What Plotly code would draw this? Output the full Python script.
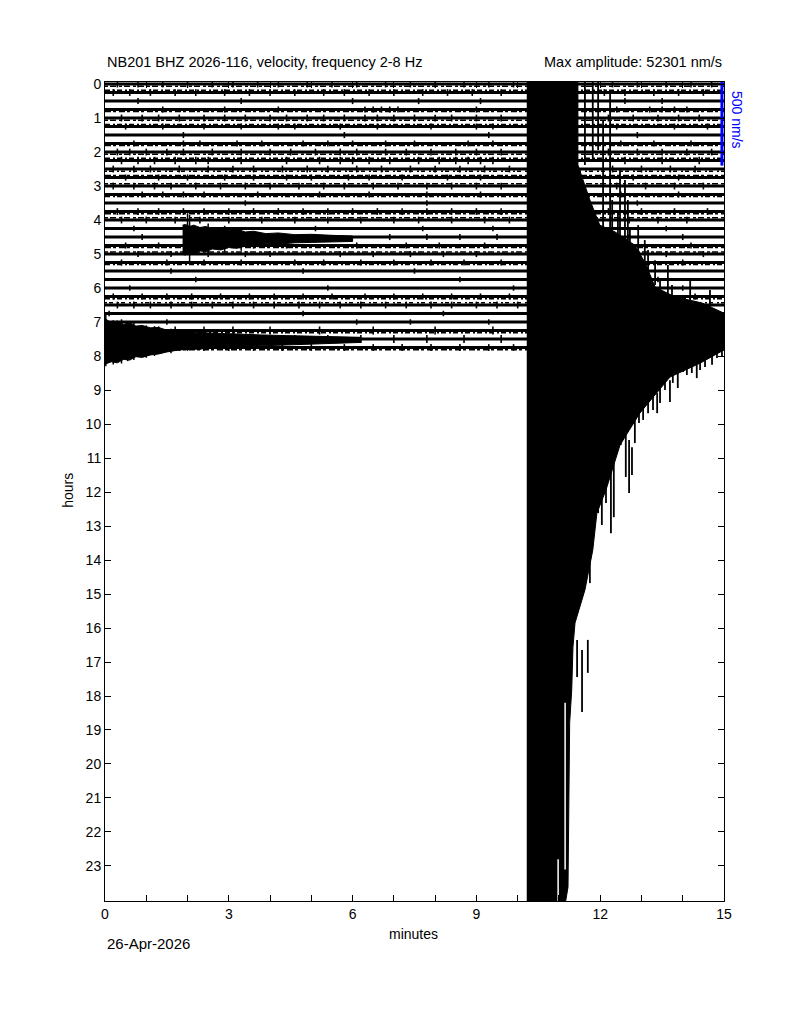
import plotly.graph_objects as go

title_left = "NB201 BHZ 2026-116, velocity, frequency 2-8 Hz"
title_right = "Max amplitude: 52301 nm/s"
date_label = "26-Apr-2026"
scale_label = "500 nm/s"
scale_bar_hours = 2.4

trace_hours = [0.0, 0.25, 0.5, 0.75, 1.0, 1.25, 1.5, 1.75,
               2.0, 2.25, 2.5, 2.75, 3.0, 3.25, 3.5, 3.75,
               4.0, 4.25, 4.5, 4.75, 5.0, 5.25, 5.5, 5.75,
               6.0, 6.25, 6.5, 6.75, 7.0, 7.25, 7.5, 7.75]

# half height of the single wiggles on each line (hours)
trace_amp = [0.10, 0.10, 0.09, 0.09, 0.10, 0.09, 0.09, 0.09,
             0.10, 0.11, 0.10, 0.09, 0.10, 0.09, 0.08, 0.10,
             0.10, 0.08, 0.09, 0.09, 0.09, 0.09, 0.08, 0.08,
             0.08, 0.09, 0.10, 0.08, 0.08, 0.12, 0.12, 0.10]

# level of the background noise band (hours, 0 = quiet line)
trace_noise = [0.065, -0.065, 0, 0.06, 0.065, -0.06, 0, 0.06,
               0.065, -0.065, 0.065, -0.06, -0.065, 0.06, 0, 0.065,
               -0.065, 0, 0, 0.06, -0.06, 0.06, 0, 0,
               0, 0.065, -0.065, 0, 0, 0.065, 0, 0.065]

trace_spikes = [
    [0.3, 0.8, 1.4, 2.0, 2.6, 3.1, 3.7, 4.2, 4.9, 5.5, 6.1, 6.8, 7.4, 8.0, 8.7, 9.3, 9.9, 12.3, 12.9, 13.6, 14.2, 14.7],
    [0.2, 0.6, 1.1, 1.7, 2.2, 2.9, 3.5, 4.0, 4.6, 5.3, 5.8, 6.4, 7.0, 7.7, 8.3, 8.9, 9.6, 12.1, 12.6, 13.3, 13.9, 14.5],
    [0.8, 3.3, 6.0, 7.6, 9.1, 12.6, 13.5],
    [1.4, 2.9, 4.2, 6.3, 6.5, 6.7, 6.9, 7.1, 9.0, 12.4, 13.2, 13.5, 13.8, 14.1],
    [0.4, 0.9, 1.3, 1.8, 2.4, 2.9, 3.4, 4.0, 4.4, 4.9, 5.3, 5.8, 6.3, 6.6, 7.0, 7.5, 8.0, 8.4, 9.0, 9.6, 12.2, 12.8, 13.4, 13.9, 14.4],
    [0.5, 1.4, 2.4, 3.3, 4.2, 4.6, 5.7, 6.6, 7.9, 9.0, 9.4, 12.4, 13.8, 14.6],
    [1.9, 5.8, 9.3, 12.9],
    [0.7, 1.9, 2.3, 3.2, 3.8, 4.8, 5.4, 6.0, 6.8, 7.5, 8.8, 9.4, 12.5, 13.3, 14.2],
    [0.3, 0.6, 1.0, 1.5, 1.9, 2.6, 3.3, 4.0, 4.5, 5.1, 5.7, 6.1, 6.8, 7.3, 7.9, 8.5, 9.0, 9.6, 12.2, 12.9, 13.5, 14.1, 14.7],
    [0.4, 0.8, 1.2, 1.7, 2.2, 2.5, 3.3, 4.4, 5.2, 5.7, 6.0, 6.4, 6.9, 7.6, 8.1, 8.5, 8.8, 9.1, 9.4, 12.6, 13.5, 14.4],
    [0.2, 0.7, 1.1, 1.8, 2.5, 3.1, 3.6, 4.3, 4.9, 5.4, 6.1, 6.7, 7.4, 8.0, 8.6, 9.2, 9.8, 12.3, 13.0, 13.7, 14.3],
    [0.5, 1.3, 2.0, 2.9, 3.6, 4.4, 5.0, 5.9, 6.4, 7.2, 8.3, 9.1, 12.8, 13.9],
    [0.2, 0.7, 1.2, 1.6, 2.2, 2.8, 3.4, 4.0, 4.7, 5.3, 5.8, 6.5, 7.1, 7.8, 8.4, 9.0, 9.6, 12.4, 13.1, 13.8, 14.5],
    [0.9, 1.4, 1.9, 2.4, 3.7, 5.2, 6.4, 7.8, 9.1, 12.5, 13.9],
    [3.4, 7.8, 12.9],
    [0.3, 0.8, 1.3, 1.9, 2.4, 3.0, 3.6, 4.2, 4.8, 5.4, 6.0, 6.6, 7.2, 7.8, 8.4, 9.0, 9.6, 12.2, 13.0, 13.8, 14.6],
    [0.4, 1.0, 1.7, 2.3, 3.0, 3.8, 4.6, 5.4, 6.2, 7.0, 7.6, 8.4, 9.2, 9.8, 12.7, 13.4, 14.1],
    [0.7, 2.9, 5.1, 7.7, 9.4, 13.6],
    [0.9, 6.9, 7.8, 8.6, 9.5, 12.7, 14.0],
    [0.5, 1.3, 2.8, 3.6, 4.4, 6.1, 7.3, 8.1, 9.2, 12.6, 14.2],
    [0.8, 1.6, 2.5, 3.4, 4.0, 5.7, 6.5, 7.4, 8.2, 9.0, 12.4, 13.6, 14.5],
    [0.4, 1.5, 2.4, 3.3, 4.6, 5.3, 6.2, 7.0, 7.9, 8.7, 9.6, 12.9, 14.0],
    [1.6, 4.8, 7.5, 12.8],
    [2.2, 8.6, 13.4],
    [0.6, 5.4, 9.9, 14.0],
    [0.2, 0.9, 1.5, 2.1, 2.8, 3.5, 4.1, 4.8, 5.5, 6.3, 7.0, 7.7, 8.4, 9.1, 9.8, 12.5, 13.4, 14.3],
    [0.3, 0.7, 1.1, 1.6, 2.1, 2.6, 3.1, 3.6, 4.1, 4.7, 5.2, 5.7, 6.2, 6.8, 7.3, 7.9, 8.4, 9.0, 9.5, 10.0],
    [0.1, 4.8, 8.2, 12.7],
    [1.5, 6.1, 7.4, 9.3],
    [0.3, 0.6, 0.9, 1.3, 1.7, 2.4, 3.1, 4.0, 5.2, 6.5, 8.0, 9.4],
    [0.1, 0.4, 0.8, 1.1, 1.5, 2.0, 2.6, 3.2, 3.9, 4.6, 5.4, 6.2, 7.0, 7.8, 8.7, 9.6],
    [0.3, 0.7, 1.2, 1.8, 2.4, 3.0, 3.6, 4.3, 5.0, 5.8, 6.5, 7.2, 7.9, 8.6, 9.3, 9.9],
]

# small event on the 4.5 h line (minutes, extent above / below centre in hours)
ev1_hour = 4.55
ev1_min = [1.88, 1.95, 2.05, 2.15, 2.3, 2.45, 2.6, 2.8, 3.0, 3.2, 3.4, 3.6, 3.9, 4.2, 4.6, 5.0, 5.5, 6.0]
ev1_up = [0.40, 0.42, 0.36, 0.40, 0.33, 0.36, 0.28, 0.32, 0.25, 0.28, 0.20, 0.22, 0.15, 0.17, 0.12, 0.13, 0.10, 0.08]
ev1_dn = [0.46, 0.48, 0.40, 0.44, 0.36, 0.38, 0.30, 0.33, 0.26, 0.28, 0.22, 0.20, 0.15, 0.16, 0.12, 0.12, 0.10, 0.08]
ev1_spk_min = [2.0, 2.05, 2.5, 2.9, 3.3, 3.7]
ev1_spk_top = [3.80, 3.85, 4.10, 4.20, 4.25, 4.35]
ev1_spk_bot = [4.85, 5.24, 5.00, 4.95, 4.90, 4.80]

# coda at the start of the 7.5 h line
coda_hour = 7.52
coda_min = [0.0, 0.15, 0.3, 0.45, 0.6, 0.75, 0.9, 1.1, 1.3, 1.5, 1.8, 2.1, 2.5, 2.9, 3.3, 3.8, 4.4, 5.0, 5.6, 6.2]
coda_up = [0.62, 0.50, 0.55, 0.45, 0.50, 0.40, 0.42, 0.35, 0.36, 0.28, 0.25, 0.22, 0.20, 0.18, 0.17, 0.14, 0.12, 0.11, 0.09, 0.07]
coda_dn = [0.72, 0.65, 0.68, 0.58, 0.60, 0.50, 0.52, 0.45, 0.42, 0.36, 0.30, 0.27, 0.25, 0.24, 0.22, 0.18, 0.15, 0.12, 0.10, 0.08]
coda_spk_min = [0.02, 0.2, 0.4, 0.55, 0.7, 1.0, 1.2, 1.6, 2.0, 2.3, 2.7, 3.1]
coda_spk_top = [6.72, 6.95, 6.92, 7.00, 7.02, 7.10, 7.12, 7.20, 7.26, 7.28, 7.30, 7.32]
coda_spk_bot = [8.30, 8.25, 8.22, 8.15, 8.12, 8.05, 8.00, 7.92, 7.85, 7.82, 7.80, 7.78]

# clipped main quake: outline of the saturated black area (minute, hour)
quake_min = [10.22, 11.46, 11.46, 11.75, 11.99, 12.36, 12.84, 13.09, 13.33, 13.81, 14.47, 15.0,
             15.0, 14.42, 13.69, 12.96, 12.48, 12.14, 11.92, 11.82, 11.63, 11.39, 11.34, 11.31,
             11.26, 11.24, 11.22, 11.10, 10.22]
quake_hour = [-0.5, -0.5, 2.38, 3.41, 4.15, 4.35, 4.74, 5.26, 5.97, 6.26, 6.44, 6.74,
              7.82, 8.21, 8.62, 9.68, 10.62, 11.94, 12.62, 13.71, 14.88, 15.85, 16.56, 17.82,
              18.79, 23.12, 23.62, 24.5, 24.5]

# single swings sticking out of the saturated block
qspk_min = [11.63, 11.82, 11.95, 12.07, 12.24, 12.48, 12.60, 12.72, 12.92, 13.16, 13.45, 13.74,
            12.29, 12.43, 12.67, 13.08, 13.33, 13.64, 14.18, 14.66,
            11.44, 11.56, 11.70, 11.75, 11.95, 12.04, 12.14, 12.26, 12.33, 12.50, 12.62, 12.70,
            12.77, 12.84, 12.94, 13.04, 13.16, 13.28, 13.38, 13.45, 13.57, 13.69, 13.76, 13.88,
            14.01, 14.10, 14.22, 14.34, 14.42, 14.54, 14.71, 14.83, 14.95]
qspk_top = [-0.5, -0.5, -0.5, 1.06, 0.18, 2.53, 2.82, 4.29, 4.15, 4.88, 5.76, 5.91,
            3.41, 3.71, 3.41, 4.59, 5.18, 5.32, 5.76, 6.06,
            16.35, 16.65, 16.35, 13.41, 11.35, 11.65, 10.82, 11.35, 11.15, 9.38, 9.68, 10.47,
            10.68, 9.21, 9.21, 9.29, 8.91, 9.09, 9.09, 8.94, 8.47, 8.71, 8.35, 8.32,
            8.12, 8.06, 8.18, 8.26, 7.91, 7.97, 7.88, 7.76, 7.82]
qspk_bot = [2.38, 2.24, 1.94, 4.59, 4.59, 4.74, 4.88, 6.06, 6.21, 6.35, 6.50, 6.50,
            5.18, 4.88, 4.88, 5.47, 5.91, 6.21, 6.35, 6.65,
            17.44, 18.47, 17.32, 14.68, 12.62, 12.97, 12.32, 13.21, 12.74, 10.62, 11.56, 12.03,
            11.50, 10.56, 9.97, 9.88, 9.68, 9.59, 9.68, 9.38, 9.00, 9.35, 8.79, 8.94,
            8.47, 8.56, 8.50, 8.65, 8.41, 8.32, 8.26, 8.06, 8.03]

# thin white gaps inside the block near its foot
gap_min = [10.98, 11.15]
gap_top = [22.8, 18.2]
gap_bot = [24.5, 23.1]

FONT = "Liberation Sans, Arial, Helvetica, sans-serif"
NOISE_DASH = ["3px,2px,6px,3px", "5px,3px,2px,2px", "2px,2px,4px,4px", "6px,2px,3px,3px"]


def vbars(mins, tops, bots):
    xs, ys = [], []
    for m, t, b in zip(mins, tops, bots):
        xs += [m, m, None]
        ys += [t, b, None]
    return xs, ys


fig = go.Figure()

# helicorder lines
for i, h in enumerate(trace_hours):
    fig.add_trace(go.Scatter(x=[0.0, 15.0], y=[h, h], mode="lines",
                             line=dict(color="black", width=3),
                             hoverinfo="skip", showlegend=False))
    if trace_noise[i]:
        fig.add_trace(go.Scatter(x=[0.0, 15.0], y=[h + trace_noise[i]] * 2, mode="lines",
                                 line=dict(color="black", width=1.5,
                                           dash=NOISE_DASH[i % len(NOISE_DASH)]),
                                 hoverinfo="skip", showlegend=False))

# single wiggles on the lines
wx, wy = [], []
for h, a, spikes in zip(trace_hours, trace_amp, trace_spikes):
    bx, by = vbars(spikes, [h - a] * len(spikes), [h + a] * len(spikes))
    wx += bx
    wy += by
fig.add_trace(go.Scatter(x=wx, y=wy, mode="lines", line=dict(color="black", width=1.6),
                         hoverinfo="skip", showlegend=False))

# event envelopes
for hc, mins, up, dn in [(ev1_hour, ev1_min, ev1_up, ev1_dn),
                         (coda_hour, coda_min, coda_up, coda_dn)]:
    ex = mins + mins[::-1]
    ey = [hc - u for u in up] + [hc + d for d in dn][::-1]
    fig.add_trace(go.Scatter(x=ex, y=ey, mode="lines", fill="toself",
                             fillcolor="black", line=dict(color="black", width=1),
                             hoverinfo="skip", showlegend=False))

sx, sy = vbars(ev1_spk_min + coda_spk_min, ev1_spk_top + coda_spk_top, ev1_spk_bot + coda_spk_bot)
fig.add_trace(go.Scatter(x=sx, y=sy, mode="lines", line=dict(color="black", width=1.5),
                         hoverinfo="skip", showlegend=False))

# saturated main quake
fig.add_trace(go.Scatter(x=quake_min, y=quake_hour, mode="lines", fill="toself",
                         fillcolor="black", line=dict(color="black", width=1),
                         hoverinfo="skip", showlegend=False))

qx, qy = vbars(qspk_min, qspk_top, qspk_bot)
fig.add_trace(go.Scatter(x=qx, y=qy, mode="lines", line=dict(color="black", width=1.8),
                         hoverinfo="skip", showlegend=False))

gx, gy = vbars(gap_min, gap_top, gap_bot)
fig.add_trace(go.Scatter(x=gx, y=gy, mode="lines", line=dict(color="white", width=1.5),
                         hoverinfo="skip", showlegend=False))

# amplitude scale bar
fig.add_trace(go.Scatter(x=[14.95, 14.95], y=[-0.5, scale_bar_hours], mode="lines",
                         line=dict(color="#0000ff", width=3),
                         hoverinfo="skip", showlegend=False))

fig.update_xaxes(range=[0, 15], tickvals=list(range(16)),
                 ticktext=[str(v) if v % 3 == 0 else "" for v in range(16)],
                 ticks="inside", ticklen=6, tickcolor="black", mirror="ticks",
                 showline=True, linecolor="black", linewidth=1, showgrid=False,
                 zeroline=False, tickfont=dict(family=FONT, size=14, color="black"))
fig.update_yaxes(range=[24.03, -0.06], tickvals=list(range(24)),
                 ticks="inside", ticklen=6, tickcolor="black", mirror="ticks",
                 showline=True, linecolor="black", linewidth=1, showgrid=False,
                 zeroline=False, tickfont=dict(family=FONT, size=14, color="black"))

annots = [
    dict(text=title_left, x=0, y=1.0244, xanchor="left", yanchor="middle", size=14.5),
    dict(text=title_right, x=1, y=1.0244, xanchor="right", yanchor="middle", size=14.5),
    dict(text="minutes", x=0.4976, y=-0.0403, xanchor="center", yanchor="middle", size=14),
    dict(text=date_label, x=0, y=-0.0525, xanchor="left", yanchor="middle", size=15),
    dict(text="hours", x=-0.0598, y=0.502, xanchor="center", yanchor="middle", textangle=-90, size=14),
    dict(text=scale_label, x=1.021, y=0.9536, xanchor="center", yanchor="middle",
         textangle=90, size=14, color="#0000ff"),
]
for a in annots:
    size = a.pop("size")
    color = a.pop("color", "black")
    fig.add_annotation(xref="paper", yref="paper", showarrow=False,
                       font=dict(family=FONT, size=size, color=color), **a)

# the page adds an 8 px body margin, so the margins are trimmed to keep the frame in place
fig.update_layout(width=800, height=1010, paper_bgcolor="white", plot_bgcolor="white",
                  margin=dict(l=97, r=84, t=74, b=117), showlegend=False)

fig.write_html("out.html")
